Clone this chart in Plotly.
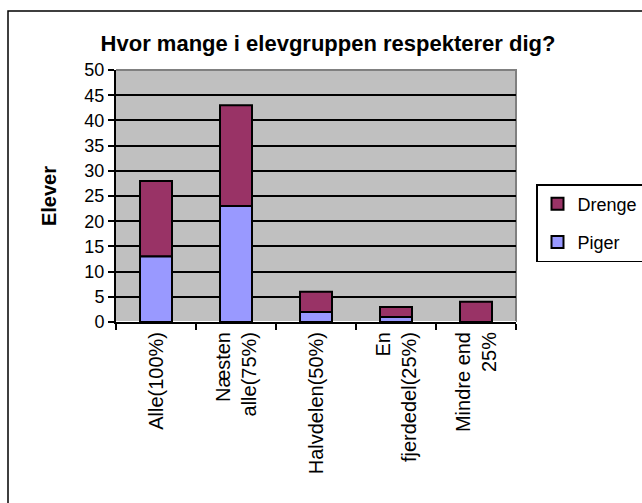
import plotly.graph_objects as go

categories = ["Alle(100%)", "Næsten<br>alle(75%)", "Halvdelen(50%)", "En<br>fjerdedel(25%)", "Mindre end<br>25%"]
piger = [13, 23, 2, 1, 0]
drenge = [15, 20, 4, 2, 4]
y_ticks = [0, 5, 10, 15, 20, 25, 30, 35, 40, 45, 50]

FONT = "Liberation Sans, Arial, sans-serif"
W, H = 642, 503
L, T = 116, 70
R = W - 516
B = H - 322
pw, ph = W - L - R, H - T - B

def px_x(page_x):
    return (page_x - L) / pw

def px_y(page_y):
    return (H - B - page_y) / ph

fig = go.Figure()
fig.add_trace(go.Bar(x=categories, y=drenge, name="Drenge", legendgroup="d",
                     marker=dict(color="#993366", line=dict(color="black", width=2)),
                     width=0.4, base=piger))
fig.add_trace(go.Bar(x=categories, y=piger, name="Piger", legendgroup="p",
                     marker=dict(color="#9999FF", line=dict(color="black", width=2)),
                     width=0.4))

fig.update_layout(
    barmode="overlay",
    width=W, height=H,
    margin=dict(l=L, r=R, t=T, b=B, autoexpand=False),
    paper_bgcolor="white",
    plot_bgcolor="#C0C0C0",
    font=dict(family=FONT, size=18, color="black"),
    title=dict(text="<b>Hvor mange i elevgruppen respekterer dig?</b>",
               x=328 / W, xanchor="center", y=1 - 43 / H, yanchor="middle",
               font=dict(size=22, family=FONT)),
    legend=dict(traceorder="grouped", tracegroupgap=12,
                x=px_x(536), xanchor="left",
                y=px_y(184), yanchor="top",
                bordercolor="black", borderwidth=1.5, bgcolor="white",
                font=dict(size=18), itemwidth=30),
    xaxis=dict(type="category", tickson="boundaries", ticks="outside", ticklen=6,
               tickcolor="black", tickwidth=1.5, tickangle=-90,
               showline=True, linecolor="black", linewidth=2, mirror=False,
               tickfont=dict(size=20), range=[-0.5, 4.5]),
    yaxis=dict(range=[0, 50], tickvals=y_ticks, ticks="outside", ticklen=6,
               tickcolor="black", tickwidth=1.5,
               showgrid=True, gridcolor="black", gridwidth=1.5,
               showline=True, linecolor="black", linewidth=2,
               tickfont=dict(size=18),
               title=dict(text="<b>Elever</b>", font=dict(size=20), standoff=22)),
    shapes=[
        dict(type="rect", xref="paper", yref="paper",
             x0=px_x(8), x1=px_x(660), y0=-2, y1=px_y(11),
             line=dict(color="black", width=1.5), layer="below"),
        dict(type="path", xref="paper", yref="paper",
             path="M 0,1 L 1,1 L 1,0", line=dict(color="#808080", width=2),
             layer="between"),
    ],
)

fig.write_html("out.html",
               config={"displayModeBar": False},
               post_script="document.body.style.margin='0';document.body.style.overflow='hidden';")
